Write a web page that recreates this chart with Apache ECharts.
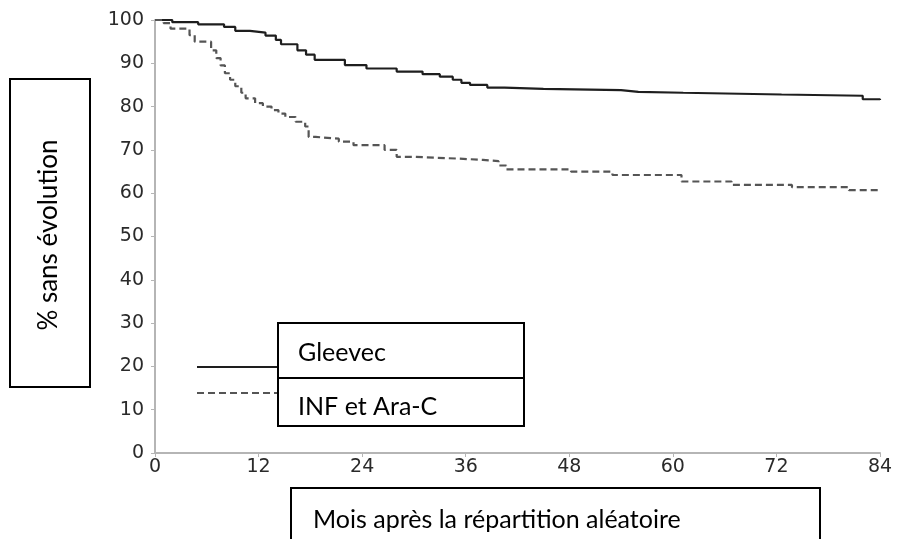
<!DOCTYPE html>
<html>
<head>
<meta charset="utf-8">
<script src="https://cdn.jsdelivr.net/npm/echarts@6/dist/echarts.min.js"></script>
<style>html,body{margin:0;padding:0;background:#fff;}#c{width:901px;height:539px;}</style>
</head>
<body>
<div id="c"></div>
<script>
// Data (months, % progression-free)
const xTicks = [0, 12, 24, 36, 48, 60, 72, 84];
const yTicks = [0, 10, 20, 30, 40, 50, 60, 70, 80, 90, 100];
const seriesNames = ['Gleevec', 'INF et Ara-C'];
const gleevecMonths = [0, 2, 5, 8, 9.3, 11, 12.8, 14, 14.6, 16.5, 17.5, 18.5, 22, 24.5, 28, 31, 33, 34.5, 35.5, 36.5, 38.5, 40.5, 45, 54, 56, 61.2, 72.6, 82, 84];
const gleevecValues = [100, 99.5, 99, 98.4, 97.5, 97.1, 96.4, 95.4, 94.4, 93, 92, 90.8, 89.6, 88.8, 88.1, 87.5, 86.9, 86.2, 85.5, 85, 84.4, 84.1, 83.8, 83.4, 83.2, 82.8, 82.5, 81.7, 81.5];
const infMonths = [0, 1, 1.8, 4, 4.6, 6.5, 7.1, 7.6, 8.1, 8.7, 9.3, 10, 10.5, 11.6, 12.5, 13.5, 14.3, 15.1, 16.3, 17.4, 17.8, 18.6, 21.3, 23, 26.6, 28, 30, 35, 38, 39.8, 40.7, 48.2, 53, 61, 66.8, 73.8, 80.4, 84];
const infValues = [100, 99.3, 98, 96.5, 95, 93, 91.2, 89.5, 87.7, 86.2, 84.7, 83.2, 81.9, 80.8, 80, 79.2, 78.4, 77.6, 76.5, 75.4, 73, 72.6, 71.9, 71.1, 70, 68.4, 68, 67.7, 67.4, 66.4, 65.5, 65, 64.2, 62.7, 61.9, 61.4, 60.7, 60.7];
const xTitle = 'Mois après la répartition aléatoire';
const yTitle = '% sans évolution';

const pair = (xs, ys) => xs.map((x, i) => [x, ys[i]]);
const boxFont = 'Lato';
const chart = echarts.init(document.getElementById('c'), null, {renderer: 'canvas'});
chart.setOption({
  animation: false,
  backgroundColor: '#fff',
  grid: {left: 155, right: 21, top: 20, bottom: 86, containLabel: false},
  xAxis: {
    type: 'value', min: 0, max: 84, interval: 12,
    axisLine: {show: true, lineStyle: {color: '#b5b5b5', width: 2}},
    axisTick: {show: true, length: 4, lineStyle: {color: '#b5b5b5'}},
    splitLine: {show: false},
    axisLabel: {color: '#2a2a2a', fontFamily: 'DejaVu Sans', fontSize: 19, margin: 5,
      formatter: v => xTicks.includes(v) ? String(v) : ''}
  },
  yAxis: {
    type: 'value', min: 0, max: 100, interval: 10,
    axisLine: {show: true, lineStyle: {color: '#b5b5b5', width: 2}},
    axisTick: {show: true, length: 4, lineStyle: {color: '#b5b5b5'}},
    splitLine: {show: false},
    axisLabel: {color: '#2a2a2a', fontFamily: 'DejaVu Sans', fontSize: 19, margin: 11,
      formatter: v => yTicks.includes(v) ? String(v) : ''}
  },
  series: [
    {name: seriesNames[0], type: 'line', step: 'end', showSymbol: false, symbol: 'none',
     data: pair(gleevecMonths, gleevecValues),
     lineStyle: {color: '#1e1e1e', width: 2.2}},
    {name: seriesNames[1], type: 'line', step: 'end', showSymbol: false, symbol: 'none',
     data: pair(infMonths, infValues),
     lineStyle: {color: '#555', width: 2.2, type: [7, 4]}}
  ],
  graphic: [
    // legend sample lines
    {type: 'line', shape: {x1: 197, y1: 367, x2: 279, y2: 367}, style: {stroke: '#1e1e1e', lineWidth: 2.2}},
    {type: 'line', shape: {x1: 197, y1: 393, x2: 279, y2: 393}, style: {stroke: '#555', lineWidth: 2.2, lineDash: [7, 4]}},
    // legend boxes
    {type: 'rect', shape: {x: 278, y: 323, width: 246, height: 55}, style: {fill: '#fff', stroke: '#000', lineWidth: 2}},
    {type: 'rect', shape: {x: 278, y: 378, width: 246, height: 48}, style: {fill: '#fff', stroke: '#000', lineWidth: 2}},
    {type: 'text', x: 298, y: 353, style: {text: seriesNames[0], font: '25px ' + boxFont, fill: '#000', verticalAlign: 'middle'}},
    {type: 'text', x: 298, y: 407, style: {text: seriesNames[1], font: '25px ' + boxFont, fill: '#000', verticalAlign: 'middle'}},
    // x axis title box
    {type: 'rect', shape: {x: 291, y: 488, width: 529, height: 60}, style: {fill: '#fff', stroke: '#000', lineWidth: 2}},
    {type: 'text', x: 313, y: 520, style: {text: xTitle, font: '25px ' + boxFont, fill: '#000', verticalAlign: 'middle'}},
    // y axis title box
    {type: 'rect', shape: {x: 10, y: 79, width: 80, height: 308}, style: {fill: '#fff', stroke: '#000', lineWidth: 2}},
    {type: 'text', x: 49, y: 235, rotation: Math.PI / 2,
     style: {text: yTitle, font: '26px ' + boxFont, fill: '#000', align: 'center', verticalAlign: 'middle'}}
  ]
});
</script>
</body>
</html>
